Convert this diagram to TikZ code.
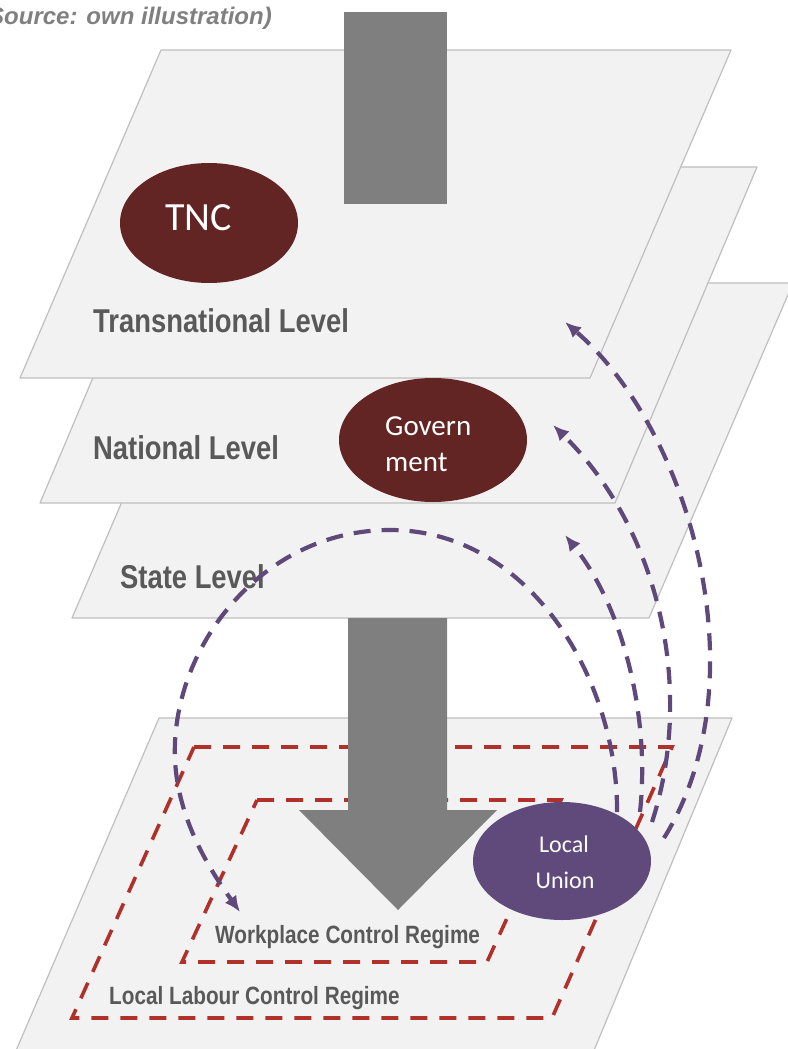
\documentclass[tikz,border=0pt]{standalone}
\usepackage{fontspec}
\usepackage{graphicx}
\setmainfont{Liberation Sans}
\newfontfamily\calfont{Carlito}
\usetikzlibrary{arrows.meta,shapes.geometric}

\definecolor{planefill}{HTML}{F2F2F2}
\definecolor{planeedge}{HTML}{BFBFBF}
\definecolor{bargray}{HTML}{7F7F7F}
\definecolor{labelgray}{HTML}{595959}
\definecolor{captiongray}{HTML}{808080}
\definecolor{actormaroon}{HTML}{632523}
\definecolor{unionpurple}{HTML}{604A7B}
\definecolor{linkpurple}{HTML}{5F497A}
\definecolor{regimered}{HTML}{B0302A}

% condensed bold labels
\newcommand\condensed[1]{\scalebox{0.83}[1]{#1}}

\tikzset{
  plane/.style={fill=planefill, draw=planeedge, line width=1.2pt, line join=round},
  regime/.style={draw=regimered, line width=3.6pt, dash pattern=on 17pt off 12pt},
  link/.style={draw=linkpurple, line width=4.2pt, dash pattern=on 17pt off 11pt,
    -{Latex[length=16pt,width=14pt]}},
  actor/.style={ellipse, inner sep=0pt, fill=actormaroon},
  actortext/.style={text=white, inner sep=0pt},
  levellabel/.style={anchor=base west, inner sep=0pt, text=labelgray,
    font=\fontsize{33}{40}\selectfont\bfseries},
  regimelabel/.style={anchor=base west, inner sep=0pt, text=labelgray,
    font=\fontsize{25}{30}\selectfont\bfseries},
}

\begin{document}
\begin{tikzpicture}[x=1pt,y=-1pt]
\useasboundingbox (0,0) rectangle (787,1049);

% caption
\node[anchor=base east, inner sep=0pt, text=captiongray,
  font=\fontsize{24}{28}\selectfont\bfseries\itshape] (caption) at (272,25)
  {Source: own illustration)};

% stacked level planes (back to front)
\filldraw[plane] (216,283) -- (793,283) -- (649,618) -- (72,618) -- cycle;
\filldraw[plane] (182,167) -- (757,167) -- (615,503) -- (40,503) -- cycle;
\filldraw[plane] (161,50) -- (731,50) -- (590,378) -- (20,378) -- cycle;

% incoming bar from above
\fill[bargray] (344,12) rectangle (447,204);

% actors on the upper levels
\node[actor, minimum width=178pt, minimum height=120pt] (tnc) at (209,223) {};
\node[actortext, anchor=base west, font=\calfont\fontsize{40}{44}\selectfont] (tnctext) at (165,230) {TNC};
\node[actor, minimum width=188pt, minimum height=124pt] (gov) at (433,440) {};
\node[actortext, anchor=base west, font=\calfont\fontsize{29}{34}\selectfont] (govtext1) at (385,435) {Govern};
\node[actortext, anchor=base west, font=\calfont\fontsize{29}{34}\selectfont] (govtext2) at (385,471) {ment};

% level labels
\node[levellabel] (ltrans) at (93,332) {\condensed{Transnational Level}};
\node[levellabel] (lnat) at (93,459) {\condensed{National Level}};
\node[levellabel] (lstate) at (120,588) {\condensed{State Level}};

% local plane
\filldraw[plane] (159,718) -- (732,718) -- (590,1060) -- (12,1060) -- cycle;

% control regimes
\draw[regime] (194,747) -- (672,747) -- (552,1018) -- (72,1018) -- cycle;
\draw[regime] (257,800) -- (561,800) -- (487,962) -- (182,962) -- cycle;

% big downward arrow
\fill[bargray] (348,618) -- (447,618) -- (447,810) -- (497,810) -- (398,910)
  -- (299,810) -- (348,810) -- cycle;

% link end points
\coordinate (sA) at (617,812);
\coordinate (sB) at (640,812);
\coordinate (sC) at (652,822);
\coordinate (sD) at (664,838);
\coordinate (loopTop) at (390,530);
\coordinate (loopLeft) at (175,760);
\coordinate (tWork) at (240,912);
\coordinate (tState) at (565,535);
\coordinate (tNat) at (553,425);
\coordinate (tTrans) at (565,322);

% dashed links from the local union
\draw[link] (sA) .. controls (618,680) and (530,530) .. (loopTop)
  .. controls (260,530) and (170,650) .. (loopLeft)
  .. controls (178,820) and (210,870) .. (tWork);
\draw[link] (sB) .. controls (650,720) and (625,610) .. (tState);
\draw[link] (sC) .. controls (695,690) and (660,530) .. (tNat);
\draw[link] (sD) .. controls (762,680) and (690,430) .. (tTrans);

% local union
\node[ellipse, inner sep=0pt, fill=unionpurple, minimum width=178pt, minimum height=118pt] (lu) at (562,861) {};
\node[actortext, anchor=base, font=\calfont\fontsize{24}{28}\selectfont] (lutext1) at (564,852) {Local};
\node[actortext, anchor=base, font=\calfont\fontsize{24}{28}\selectfont] (lutext2) at (565,888) {Union};

% regime labels
\node[regimelabel] (lwork) at (215,943) {\condensed{Workplace Control Regime}};
\node[regimelabel] (llocal) at (109,1004) {\condensed{Local Labour Control Regime}};

\end{tikzpicture}
\end{document}
